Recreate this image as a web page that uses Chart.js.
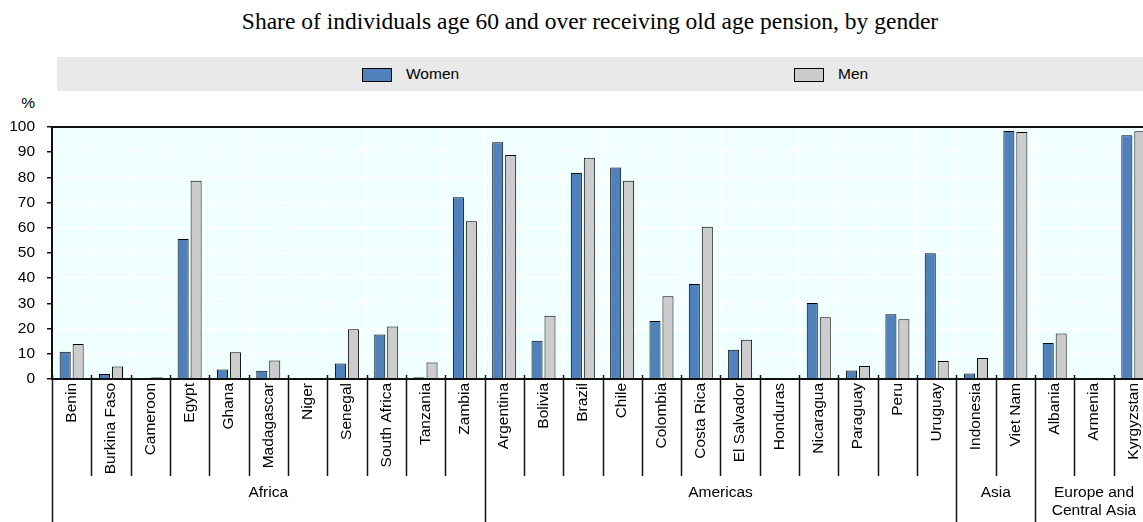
<!DOCTYPE html>
<html>
<head>
<meta charset="utf-8">
<script src="https://cdn.jsdelivr.net/npm/chart.js@4"></script>
<style>
body{margin:0;width:1143px;height:522px;overflow:hidden;background:#fff;position:relative;
  font-family:'Liberation Sans',Arial,sans-serif;color:#000;}
#titulo{position:absolute;top:8px;left:0;width:1180px;text-align:center;line-height:26px;
  font-size:23.5px;font-family:'Liberation Serif','Times New Roman',serif;}
#leyenda{position:absolute;left:57px;top:57px;width:1120px;height:34px;background:#e9e9e9;}
.caja{position:absolute;top:11px;width:28px;height:12px;border:1px solid #000;}
.txt{position:absolute;top:7px;font-size:15.5px;line-height:20px;}
#pct{position:absolute;left:0;width:35px;text-align:right;top:93px;font-size:15.5px;line-height:20px;}
#lienzo{position:absolute;left:0;top:0;}
</style>
</head>
<body>
<div id="titulo"></div>
<div id="leyenda"></div>
<div id="pct">%</div>
<canvas id="lienzo" width="1160" height="522"></canvas>
<script>
const titulo = "Share of individuals age 60 and over receiving old age pension, by gender";
const paises = ["Benin","Burkina Faso","Cameroon","Egypt","Ghana","Madagascar","Niger","Senegal","South Africa","Tanzania","Zambia",
  "Argentina","Bolivia","Brazil","Chile","Colombia","Costa Rica","El Salvador","Honduras","Nicaragua","Paraguay","Peru","Uruguay",
  "Indonesia","Viet Nam","Albania","Armenia","Kyrgyzstan"];
const regiones = ["Africa","Americas","Asia",["Europe and","Central Asia"]];
const regionTamanos = [11,12,2,3];
const mujeres = [10.8,2.0,null,55.6,3.8,3.3,null,6.2,17.7,0.7,72.1,
  93.9,15.2,81.7,83.9,23.0,37.7,11.6,null,30.2,3.4,25.7,49.9,
  2.2,98.4,14.3,null,96.7];
const hombres = [13.9,5.0,0.7,78.7,10.6,7.3,null,19.7,20.8,6.5,62.6,
  88.9,25.1,87.8,78.7,32.8,60.4,15.6,null,24.5,5.2,23.7,7.1,
  8.3,98.0,18.1,null,98.3];
const series = ["Women","Men"];
const colores = ["#4F81BD","#CCCCCC"];

const fuente = "'Liberation Sans',Arial,sans-serif";

document.getElementById("titulo").textContent = titulo;
//leyenda en html
const leyenda = document.getElementById("leyenda");
const posLeyenda = [305, 737];
series.forEach((s, i) => {
    leyenda.innerHTML += `<div class="caja" style="left:${posLeyenda[i]}px;background:${colores[i]}"></div>
        <div class="txt" style="left:${posLeyenda[i] + 44}px">${s}</div>`;
});

const fondoYSeparadores = {
    id: "fondoYSeparadores",
    beforeDraw(chart) {
        const {ctx, chartArea: a} = chart;
        ctx.save();
        ctx.fillStyle = "#F0FFFF";
        ctx.fillRect(a.left, a.top, a.right - a.left, a.bottom - a.top);
        ctx.restore();
    },
    afterDraw(chart) {
        const {ctx, chartArea: a, scales: {x}} = chart;
        const ancho = x.getPixelForTick(1) - x.getPixelForTick(0);
        const inicio = x.getPixelForTick(0) - ancho / 2;
        ctx.save();
        ctx.strokeStyle = "#111";
        ctx.lineWidth = 2;
        ctx.strokeRect(a.left, a.top, a.right - a.left, a.bottom - a.top);
        ctx.lineWidth = 1.5;
        const limites = [0];
        let acc = 0;
        regionTamanos.forEach(n => { acc += n; limites.push(acc); });
        for (let i = 0; i <= paises.length; i++) {
            const px = Math.round(inicio + i * ancho) + 0.5;
            const fin = limites.includes(i) ? 522 : 476;
            ctx.beginPath();
            ctx.moveTo(px, a.bottom - 4);
            ctx.lineTo(px, fin);
            ctx.stroke();
        }
        ctx.fillStyle = "#000";
        ctx.font = "15.5px " + fuente;
        ctx.textAlign = "center";
        ctx.textBaseline = "middle";
        acc = 0;
        regiones.forEach((r, k) => {
            const ini = acc;
            acc += regionTamanos[k];
            const cx = inicio + (ini + acc) / 2 * ancho;
            [].concat(r).forEach((linea, j) => ctx.fillText(linea, cx, 493 + j * 18));
        });
        ctx.restore();
    }
};

const grafico = new Chart(document.getElementById("lienzo").getContext("2d"), {
    type: "bar",
    data: {
        labels: paises,
        datasets: [
            {label: series[0], data: mujeres, backgroundColor: colores[0], borderColor: "#000", borderWidth: 1,
             categoryPercentage: 0.66, barPercentage: 0.85},
            {label: series[1], data: hombres, backgroundColor: colores[1], borderColor: "#000", borderWidth: 1,
             categoryPercentage: 0.66, barPercentage: 0.85}
        ]
    },
    options: {
        responsive: false,
        animation: false,
        layout: {padding: {top: 127, right: 7, left: 0, bottom: 0}},
        plugins: {legend: {display: false}, title: {display: false}, tooltip: {enabled: false}},
        scales: {
            x: {
                grid: {color: "#fff", lineWidth: 1.5, drawTicks: false, offset: true},
                border: {color: "#111", width: 2},
                ticks: {autoSkip: false, minRotation: 90, maxRotation: 90, padding: 4, color: "#000",
                        font: {family: fuente, size: 15.5}},
                afterFit(s) { s.height = 143; }
            },
            y: {
                min: 0, max: 100,
                ticks: {stepSize: 10, padding: 12, color: "#000", font: {family: fuente, size: 15.5}},
                grid: {color: "#fff", lineWidth: 1.5, tickColor: "#111", tickLength: 5},
                border: {color: "#111", width: 2},
                afterFit(s) { s.width = 52; }
            }
        }
    },
    plugins: [fondoYSeparadores]
});
</script>
</body>
</html>
